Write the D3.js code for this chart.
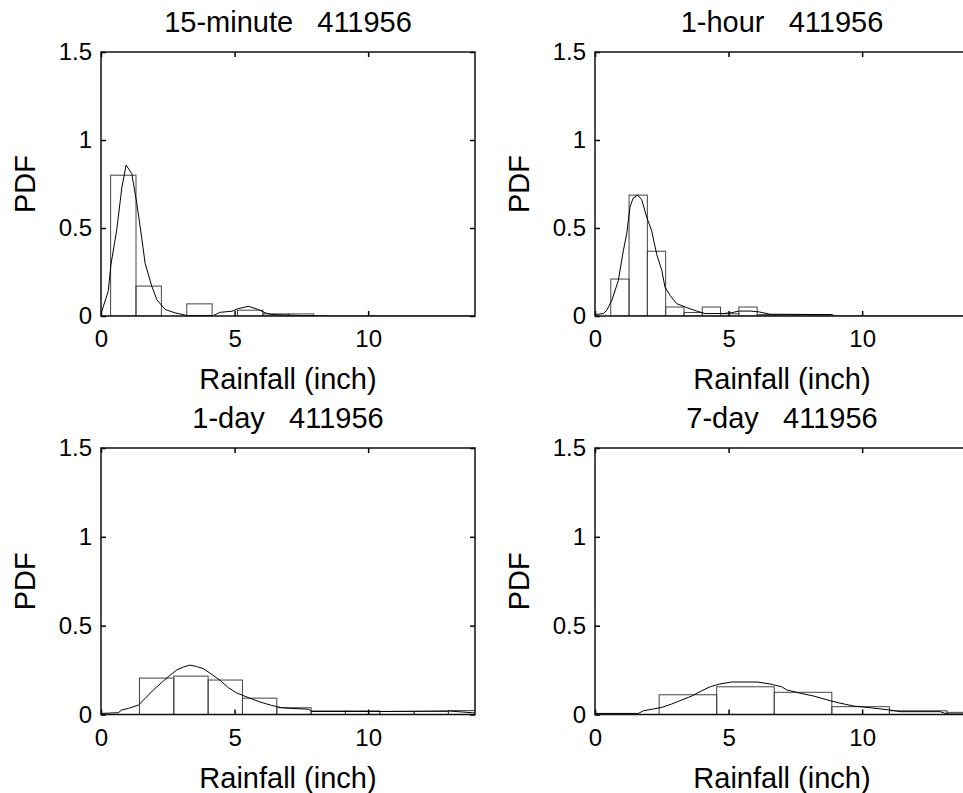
<!DOCTYPE html>
<html>
<head>
<meta charset="utf-8">
<script src="https://cdn.jsdelivr.net/npm/d3@7"></script>
<style>
  body { margin: 0; background: #fff; }
  text { font-family: "Liberation Sans", Arial, sans-serif; fill: #000; }
</style>
</head>
<body>
<div id="chart"></div>
<script>
// panel titles and ticks
var titles = ["15-minute   411956", "1-hour   411956", "1-day   411956", "7-day   411956"];
var xTicks = [0, 5, 10];
var yTicks = [0, 0.5, 1, 1.5];
var yTickLabels = ["0", "0.5", "1", "1.5"];
var xLabel = "Rainfall (inch)";
var yLabel = "PDF";

// 15-minute histogram + kernel density
var edges15min = [0.36, 1.31, 2.26, 3.21, 4.16, 5.11, 6.06, 7.01, 7.96];
var pdf15min = [0.80, 0.17, 0, 0.069, 0, 0.033, 0.012, 0.012];
var kdeX15min = [0, 0.27, 0.37, 0.59, 0.78, 0.94, 1.15, 1.34, 1.52, 1.65, 1.90, 2.09, 2.40, 2.77, 3.21, 4.21, 4.46, 4.90, 5.14, 5.52, 5.89, 6.14, 6.39, 7.45, 8.6, 14];
var kdeY15min = [0.014, 0.14, 0.29, 0.49, 0.73, 0.857, 0.81, 0.64, 0.45, 0.30, 0.17, 0.093, 0.037, 0.018, 0.003, 0.003, 0.021, 0.027, 0.042, 0.055, 0.037, 0.018, 0.008, 0.003, 0, 0];

// 1-hour
var edges1hr = [0.59, 1.275, 1.96, 2.645, 3.33, 4.015, 4.70, 5.385, 6.07, 6.755, 7.44, 8.125, 8.81];
var pdf1hr = [0.21, 0.687, 0.368, 0.051, 0.02, 0.051, 0.013, 0.051, 0.008, 0.008, 0.008, 0.008];
var kdeX1hr = [0, 0.31, 0.44, 0.63, 0.87, 1.06, 1.19, 1.31, 1.43, 1.60, 1.75, 1.94, 2.12, 2.31, 2.50, 2.62, 2.81, 3.06, 3.43, 3.81, 4.12, 4.81, 5.12, 5.39, 5.81, 6.15, 6.55, 8.87, 9.0, 14];
var kdeY1hr = [0.008, 0.014, 0.032, 0.089, 0.20, 0.37, 0.47, 0.62, 0.67, 0.687, 0.66, 0.56, 0.485, 0.35, 0.26, 0.164, 0.117, 0.070, 0.048, 0.028, 0.014, 0.014, 0.019, 0.028, 0.028, 0.023, 0.01, 0.008, 0, 0];

// 1-day
var edges1day = [1.44, 2.725, 4.01, 5.295, 6.58, 7.865, 9.15, 10.435, 11.72, 13.005, 14.29];
var pdf1day = [0.205, 0.216, 0.194, 0.092, 0.038, 0.02, 0.02, 0.017, 0.017, 0.022];
var kdeX1day = [0, 0.65, 0.77, 1.02, 1.40, 1.65, 1.96, 2.27, 2.58, 2.83, 3.08, 3.33, 3.58, 3.83, 4.08, 4.46, 4.77, 5.08, 5.52, 5.96, 6.39, 6.77, 7.14, 7.76, 7.89, 10.5, 13.0, 13.9, 14];
var kdeY1day = [0.006, 0.01, 0.025, 0.034, 0.053, 0.09, 0.138, 0.18, 0.22, 0.25, 0.267, 0.278, 0.27, 0.258, 0.233, 0.192, 0.151, 0.121, 0.095, 0.07, 0.051, 0.038, 0.034, 0.03, 0.017, 0.017, 0.02, 0.01, 0.008];

// 7-day
var edges7day = [2.40, 4.555, 6.71, 8.865, 11.02, 13.175, 15.33];
var pdf7day = [0.111, 0.156, 0.125, 0.044, 0.021, 0.012];
var kdeX7day = [0, 1.62, 1.81, 2.18, 2.50, 2.87, 3.25, 3.62, 4.0, 4.31, 4.68, 5.12, 6.06, 6.55, 6.99, 7.18, 7.68, 8.18, 8.80, 9.11, 9.67, 10.30, 11.05, 11.42, 12.92, 13.17, 14];
var kdeY7day = [0.006, 0.006, 0.021, 0.031, 0.04, 0.059, 0.082, 0.104, 0.134, 0.156, 0.172, 0.183, 0.183, 0.172, 0.156, 0.138, 0.12, 0.104, 0.078, 0.066, 0.048, 0.038, 0.025, 0.016, 0.016, 0.003, 0.003];

var panels = [
  {edges: edges15min, pdf: pdf15min, kx: kdeX15min, ky: kdeY15min},
  {edges: edges1hr, pdf: pdf1hr, kx: kdeX1hr, ky: kdeY1hr},
  {edges: edges1day, pdf: pdf1day, kx: kdeX1day, ky: kdeY1day},
  {edges: edges7day, pdf: pdf7day, kx: kdeX7day, ky: kdeY7day}
];

var width = 963, height = 793;
var colLeft = [101, 595], axW = 374;
var rowTop = [52, 448], rowBottom = [316, 714.5];

var svg = d3.select("#chart")
  .append("svg")
    .attr("width", width)
    .attr("height", height);

panels.forEach(function(p, i) {
  var col = i % 2, row = Math.floor(i / 2);
  var left = colLeft[col], top = rowTop[row], bottom = rowBottom[row];

  var x = d3.scaleLinear().domain([0, 14]).range([left, left + axW]);
  var y = d3.scaleLinear().domain([0, 1.5]).range([bottom, top]);

  var clipId = "clip" + i;
  svg.append("clipPath").attr("id", clipId)
    .append("rect")
      .attr("x", left).attr("y", top)
      .attr("width", axW).attr("height", bottom - top);

  var g = svg.append("g").attr("clip-path", "url(#" + clipId + ")");

  // histogram bars
  g.selectAll("rect.bar")
    .data(p.pdf)
    .enter()
    .append("rect")
      .attr("class", "bar")
      .attr("x", function(d, j) { return x(p.edges[j]); })
      .attr("y", function(d) { return y(d); })
      .attr("width", function(d, j) { return x(p.edges[j + 1]) - x(p.edges[j]); })
      .attr("height", function(d) { return y(0) - y(d); })
      .style("fill", "none")
      .style("stroke", "#444")
      .style("stroke-width", 1);

  // density curve
  var pts = p.kx.map(function(v, j) { return [v, p.ky[j]]; });
  g.append("path")
    .datum(pts)
    .attr("d", d3.line().x(function(d) { return x(d[0]); }).y(function(d) { return y(d[1]); }))
    .style("fill", "none")
    .style("stroke", "#000")
    .style("stroke-width", 1);

  // axes with inward ticks
  var ax = svg.append("g").attr("transform", "translate(0," + bottom + ")")
    .call(d3.axisBottom(x).tickValues(xTicks).tickSize(-5).tickPadding(14).tickFormat(d3.format("d")));
  ax.select(".domain").remove();
  ax.selectAll("text").style("font-size", "24px").style("font-family", "Liberation Sans, Arial, sans-serif");

  var ay = svg.append("g").attr("transform", "translate(" + left + ",0)")
    .call(d3.axisLeft(y).tickValues(yTicks).tickSize(-5).tickPadding(9)
      .tickFormat(function(d, j) { return yTickLabels[j]; }));
  ay.select(".domain").remove();
  ay.selectAll("text").style("font-size", "24px").style("font-family", "Liberation Sans, Arial, sans-serif");

  var at = svg.append("g").attr("transform", "translate(0," + top + ")")
    .call(d3.axisTop(x).tickValues(xTicks).tickSize(-5).tickFormat(""));
  at.select(".domain").remove();
  var ar = svg.append("g").attr("transform", "translate(" + (left + axW) + ",0)")
    .call(d3.axisRight(y).tickValues(yTicks).tickSize(-5).tickFormat(""));
  ar.select(".domain").remove();
  svg.selectAll(".tick line").style("stroke", "#000").style("stroke-width", 1.5);

  // box
  svg.append("rect")
    .attr("x", left).attr("y", top)
    .attr("width", axW).attr("height", bottom - top)
    .style("fill", "none")
    .style("stroke", "#111")
    .style("stroke-width", 1.5);

  // labels
  svg.append("text")
    .attr("x", left + axW / 2).attr("y", top - 20)
    .attr("text-anchor", "middle")
    .attr("xml:space", "preserve")
    .style("white-space", "pre")
    .style("font-size", "29px")
    .text(titles[i]);

  svg.append("text")
    .attr("x", left + axW / 2).attr("y", bottom + 73)
    .attr("text-anchor", "middle")
    .style("font-size", "29px")
    .text(xLabel);

  svg.append("text")
    .attr("transform", "translate(" + (left - 66) + "," + ((top + bottom) / 2) + ") rotate(-90)")
    .attr("text-anchor", "middle")
    .style("font-size", "29px")
    .text(yLabel);
});
</script>
</body>
</html>
